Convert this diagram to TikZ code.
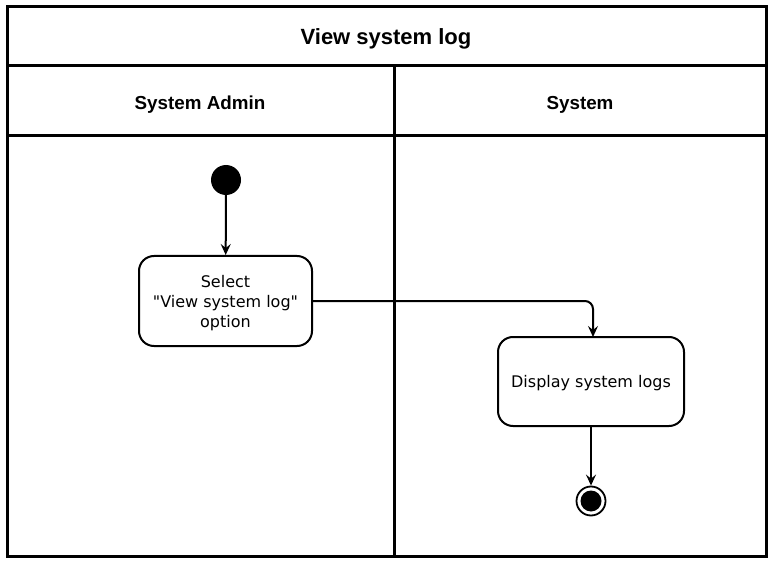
\documentclass[tikz,border=0pt]{standalone}
\usepackage{fontspec}
\newfontfamily\boxfont{DejaVu Sans}
\newfontfamily\headfont{Liberation Sans}
\usetikzlibrary{arrows.meta}
\begin{document}
\begin{tikzpicture}[x=1pt,y=-1pt,
  frame/.style={draw=black,line width=3pt},
  lane/.style={draw=black,line width=3pt},
  action/.style={draw=black,line width=2pt,rounded corners=15pt,fill=white,align=center,font=\boxfont\fontsize{16}{20}\selectfont,text depth=-2pt},
  flow/.style={draw=black,line width=2pt,-{Stealth[length=11pt,width=10pt,inset=4pt]}},
  headtext/.style={font=\headfont\bfseries\fontsize{18.8}{22}\selectfont},
  titletext/.style={font=\headfont\bfseries\fontsize{22}{26}\selectfont}]
\useasboundingbox (0,0) rectangle (774,564);
\fill[white] (0,0) rectangle (774,564);
% frame and lanes
\draw[frame] (7,7) rectangle (766,556);
\draw[frame] (7,66) -- (766,66);
\draw[frame] (7,136) -- (766,136);
\draw[lane] (394,66) -- (394,556);
\node[titletext] (title) at (386,39) {View system log};
\node[headtext] (lane1) at (200,105) {System Admin};
\node[headtext] (lane2) at (580,105) {System};
% nodes
\node[circle,fill=black,minimum size=30pt,inner sep=0pt] (start) at (226,180) {};
\node[action,minimum width=173pt,minimum height=90pt] (sel) at (225.5,301) {Select\\"View system log"\\option};
\node[action,minimum width=186pt,minimum height=89pt] (disp) at (591,381.5) {Display system logs};
\node[circle,draw=black,line width=1.8pt,fill=white,minimum size=29pt,inner sep=0pt] (end) at (591,501) {};
\node[circle,fill=black,minimum size=21pt,inner sep=0pt] (endin) at (end) {};
% connectors
\draw[flow] (start) -- (sel);
\draw[flow,rounded corners=8pt] (sel.east) -- (593,301) -- (593,337);
\draw[flow] (disp) -- (end);
\end{tikzpicture}
\end{document}
